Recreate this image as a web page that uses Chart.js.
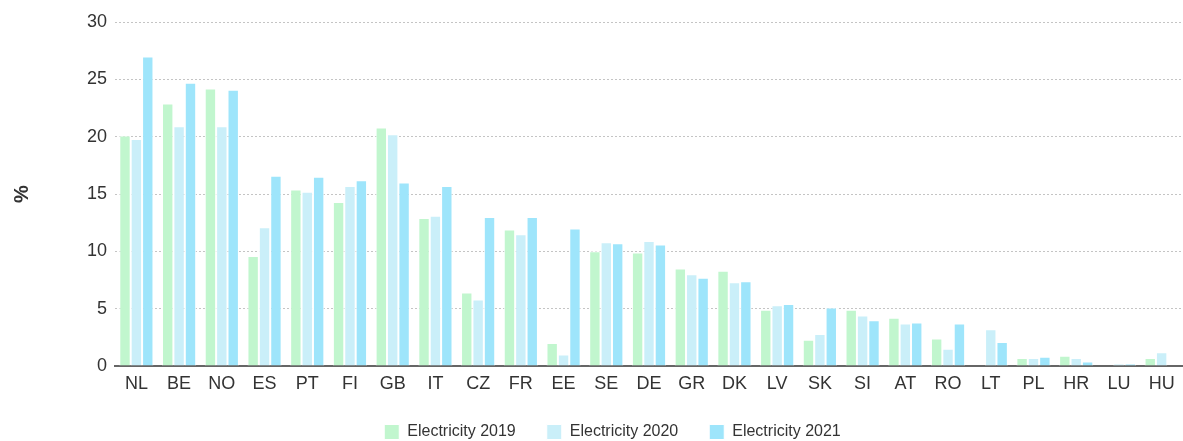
<!DOCTYPE html>
<html>
<head>
<meta charset="utf-8">
<script src="https://cdn.jsdelivr.net/npm/chart.js@4/dist/chart.umd.min.js"></script>
<style>
  html, body { margin: 0; padding: 0; background: #fff; overflow: hidden; }
  #wrap { width: 1183px; height: 450px; }
</style>
</head>
<body>
<div id="wrap"><canvas id="chart" width="1183" height="450"></canvas></div>
<script>
// 국가 코드 (x축)
const countries = ['NL', 'BE', 'NO', 'ES', 'PT', 'FI', 'GB', 'IT', 'CZ', 'FR', 'EE', 'SE', 'DE',
                   'GR', 'DK', 'LV', 'SK', 'SI', 'AT', 'RO', 'LT', 'PL', 'HR', 'LU', 'HU'];

// 연도별 값 (%)
const elec2019 = [20.1, 22.9, 24.2, 9.6, 15.4, 14.3, 20.8, 12.9, 6.4, 11.9, 2.0, 10.0, 9.9,
                  8.5, 8.3, 4.9, 2.3, 4.9, 4.2, 2.4, 0, 0.7, 0.9, 0, 0.7];
const elec2020 = [19.8, 20.9, 20.9, 12.1, 15.2, 15.7, 20.2, 13.1, 5.8, 11.5, 1.0, 10.8, 10.9,
                  8.0, 7.3, 5.3, 2.8, 4.4, 3.7, 1.5, 3.2, 0.7, 0.7, 0.2, 1.2];
const elec2021 = [27.0, 24.7, 24.1, 16.6, 16.5, 16.2, 16.0, 15.7, 13.0, 13.0, 12.0, 10.7, 10.6,
                  7.7, 7.4, 5.4, 5.1, 4.0, 3.8, 3.7, 2.1, 0.8, 0.4, 0.2, 0];

const yTicks = [0, 5, 10, 15, 20, 25, 30];

const seriesNames = ['Electricity 2019', 'Electricity 2020', 'Electricity 2021'];
const seriesColors = ['#c1f6ce', '#caeff9', '#9ee5fb'];

// 범례를 오른쪽으로 조금 이동
const legendShift = {
    id: 'legendShift',
    afterLayout(chart) {
        chart.legend.left += 21;
        chart.legend.right += 21;
    }
};

const ctx = document.getElementById('chart').getContext('2d');
new Chart(ctx, {
    type: 'bar',
    plugins: [legendShift],
    data: {
        labels: countries,
        datasets: [elec2019, elec2020, elec2021].map((vals, i) => ({
            label: seriesNames[i],
            data: vals,
            backgroundColor: seriesColors[i],
            borderColor: '#ffffff',
            borderWidth: 1,
            categoryPercentage: 0.8,
            barPercentage: 1.0
        }))
    },
    options: {
        responsive: false,
        animation: false,
        layout: { padding: { top: 22, right: 0, left: 0, bottom: 0 } },
        plugins: {
            tooltip: { enabled: false },
            legend: {
                position: 'bottom',
                labels: {
                    boxWidth: 15,
                    boxHeight: 15,
                    padding: 31,
                    color: '#333',
                    font: { family: 'Liberation Sans', size: 16 }
                }
            }
        },
        scales: {
            x: {
                grid: { display: false, drawTicks: false },
                border: { display: true, color: '#666', width: 2 },
                afterFit: axis => { axis.height = 27; },
                ticks: {
                    padding: 7,
                    color: '#333',
                    font: { family: 'Liberation Sans', size: 18 }
                }
            },
            y: {
                min: 0,
                max: 30,
                afterBuildTicks: axis => { axis.ticks = yTicks.map(v => ({ value: v })); },
                grid: { color: '#c4c4c4', drawTicks: false },
                border: { display: false, dash: [2, 2] },
                ticks: {
                    padding: 8,
                    color: '#333',
                    font: { family: 'Liberation Sans', size: 18 }
                },
                title: {
                    display: true,
                    text: '%',
                    color: '#333',
                    padding: { top: 10, bottom: 45 },
                    font: { family: 'Liberation Sans', size: 20, weight: 'bold' }
                }
            }
        }
    }
});
</script>
</body>
</html>
